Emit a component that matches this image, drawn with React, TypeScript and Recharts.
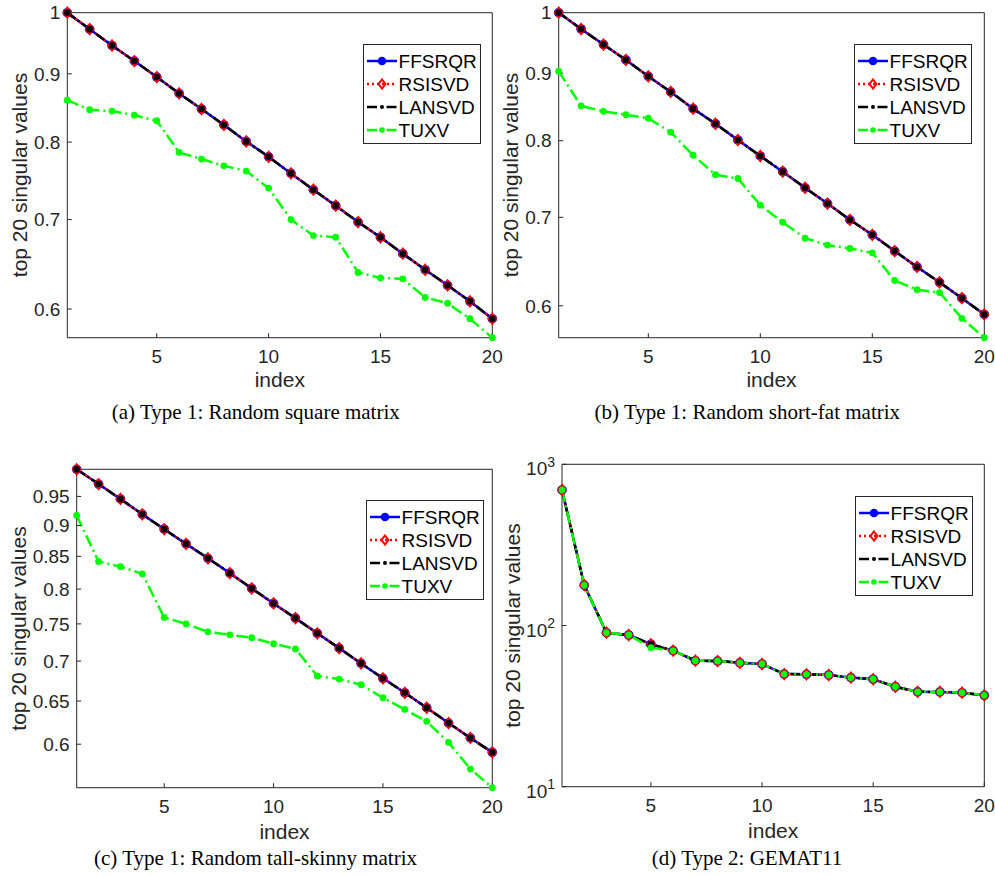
import React from "react";
import { LineChart, Line, XAxis, YAxis, Legend } from "recharts";

const SANS = '"Liberation Sans", Arial, Helvetica, sans-serif';
const SERIF = '"Liberation Serif", "Times New Roman", Times, serif';
const INK = "#262626";
const THIN = 0.01; // axis boxes must be non-empty to be drawn

const indices = [1, 2, 3, 4, 5, 6, 7, 8, 9, 10, 11, 12, 13, 14, 15, 16, 17, 18, 19, 20];
const xTicks = [5, 10, 15, 20];

// (a) random square matrix -- FFSRQR, RSISVD and LANSVD lie on top of each other
const squareExact = [1.0, 0.972, 0.945, 0.92, 0.895, 0.87, 0.847, 0.824, 0.801, 0.78, 0.758, 0.737, 0.717, 0.697, 0.679, 0.66, 0.642, 0.625, 0.608, 0.59];
const squareTuxv = [0.86, 0.846, 0.844, 0.838, 0.83, 0.786, 0.777, 0.768, 0.761, 0.739, 0.7, 0.681, 0.679, 0.639, 0.633, 0.632, 0.612, 0.606, 0.59, 0.571];

// (b) random short-fat matrix
const shortFatExact = [1.0, 0.972, 0.946, 0.921, 0.895, 0.871, 0.846, 0.824, 0.801, 0.779, 0.758, 0.737, 0.717, 0.697, 0.679, 0.66, 0.642, 0.625, 0.608, 0.591];
const shortFatTuxv = [0.903, 0.85, 0.842, 0.837, 0.832, 0.812, 0.78, 0.754, 0.749, 0.715, 0.694, 0.675, 0.667, 0.663, 0.658, 0.627, 0.617, 0.614, 0.587, 0.5675];

// (c) random tall-skinny matrix
const tallExact = [0.999, 0.972, 0.9455, 0.919, 0.894, 0.87, 0.847, 0.824, 0.801, 0.779, 0.758, 0.737, 0.717, 0.697, 0.678, 0.66, 0.642, 0.624, 0.607, 0.591];
const tallTuxv = [0.917, 0.842, 0.834, 0.823, 0.759, 0.75, 0.739, 0.735, 0.731, 0.723, 0.716, 0.681, 0.677, 0.67, 0.654, 0.64, 0.626, 0.602, 0.573, 0.5535];

// (d) GEMAT11
const gematExact = [693, 178, 90.2, 87.3, 76.5, 69.8, 60.5, 60.2, 58.7, 57.7, 50.0, 49.8, 49.3, 47.5, 46.4, 41.7, 38.8, 38.7, 38.3, 36.9];
const gematTuxv = [693, 178, 90.2, 87.3, 72.9, 69.8, 60.5, 60.2, 58.7, 57.7, 50.0, 49.8, 49.3, 47.5, 46.4, 41.7, 38.8, 38.7, 38.3, 36.9];

const type1Ticks = [0.6, 0.7, 0.8, 0.9, 1];
const type1Minor = [0.58, 0.62, 0.64, 0.66, 0.68, 0.72, 0.74, 0.76, 0.78, 0.82, 0.84, 0.86, 0.88, 0.92, 0.94, 0.96, 0.98];
const tallTicks = [0.6, 0.65, 0.7, 0.75, 0.8, 0.85, 0.9, 0.95];
const tallMinor = [0.56, 0.57, 0.58, 0.59, 0.61, 0.62, 0.63, 0.64, 0.66, 0.67, 0.68, 0.69, 0.71, 0.72, 0.73, 0.74, 0.76, 0.77, 0.78, 0.79, 0.81, 0.82, 0.83, 0.84, 0.86, 0.87, 0.88, 0.89, 0.91, 0.92, 0.93, 0.94, 0.96, 0.97, 0.98, 0.99];
const gematTicks = [10, 100, 1000];
const gematMinor = [20, 30, 40, 50, 60, 70, 80, 90, 200, 300, 400, 500, 600, 700, 800, 900];

type Kind = "circle" | "diamond" | "point" | "dot";
const SERIES: { key: string; name: string; color: string; dash?: string; legendDash?: string; kind: Kind }[] = [
  { key: "ffsrqr", name: "FFSRQR", color: "#0000ff", kind: "circle" },
  { key: "rsisvd", name: "RSISVD", color: "#ff0000", dash: "2 3", legendDash: "2 3", kind: "diamond" },
  { key: "lansvd", name: "LANSVD", color: "#000000", dash: "10 3 2 3", legendDash: "10 4 1.5 4", kind: "point" },
  { key: "tuxv", name: "TUXV", color: "#00ff00", dash: "12 4 2 4", legendDash: "10 4 1.5 4", kind: "dot" },
];

const marker = (kind: Kind, cx: number, cy: number, color: string, small = false) => {
  if (kind === "circle")
    return <circle cx={cx} cy={cy} r={small ? 3.3 : 3.8} fill={small ? color : "none"} stroke={color} strokeWidth={2} />;
  if (kind === "diamond") {
    const h = small ? 4.5 : 5;
    const w = small ? 3.5 : 3.8;
    return <polygon points={`${cx},${cy - h} ${cx + w},${cy} ${cx},${cy + h} ${cx - w},${cy}`} fill="none" stroke={color} strokeWidth={2} />;
  }
  if (kind === "point") return <circle cx={cx} cy={cy} r={small ? 2 : 3.3} fill={color} />;
  return <circle cx={cx} cy={cy} r={small ? 2.8 : 3.4} fill={color} />;
};

const dotFor = (kind: Kind, color: string) => (p: any) => (
  <g key={`m-${p.index}`}>{marker(kind, p.cx, p.cy, color)}</g>
);

const buildRows = (exact: number[], tuxv: number[]) =>
  indices.map((i, k) => ({ i, ffsrqr: exact[k], rsisvd: exact[k], lansvd: exact[k], tuxv: tuxv[k] }));

const LegendBox = () => (
  <svg width={118} height={100} style={{ display: "block" }}>
    <rect x={0.5} y={0.5} width={117} height={99} fill="#ffffff" stroke={INK} strokeWidth={1} />
    {SERIES.map((s, k) => {
      const cy = 17 + k * 23;
      return (
        <g key={s.key}>
          <line x1={4} x2={34} y1={cy} y2={cy} stroke={s.color} strokeWidth={2.5} strokeDasharray={s.legendDash} />
          {marker(s.kind, 19, cy, s.color, true)}
          <text x={35.6} y={cy + 6.8} fontSize={19} fontFamily={SANS} fill="#000">
            {s.name}
          </text>
        </g>
      );
    })}
  </svg>
);

const PowerTick = (props: any) => {
  const { x, y, payload } = props;
  const exp = Math.round(Math.log10(payload.value));
  return (
    <text x={x} y={y + 11} textAnchor="end" fill={INK} fontSize={19} fontFamily={SANS}>
      10<tspan dy={-8.4} fontSize={14}>{exp}</tspan>
    </text>
  );
};

type Rect = { left: number; top: number; width: number; height: number };
type Plot = { left: number; top: number; right: number; bottom: number };

const Panel = (props: {
  frame: Rect;
  plot: Plot;
  rows: any[];
  domain: [number, number];
  major: number[];
  minor: number[];
  legend: { left: number; top: number };
  powers?: boolean;
}) => {
  const { frame, plot, rows, domain, major, minor, legend, powers } = props;
  const margin = {
    top: plot.top - frame.top - 2 * THIN,
    left: plot.left - frame.left - 2 * THIN,
    right: frame.left + frame.width - plot.right - 2 * THIN,
    bottom: frame.top + frame.height - plot.bottom - 2 * THIN,
  };
  const tickText = { fill: INK, fontSize: 19, fontFamily: SANS };
  return (
    <div style={{ position: "absolute", left: frame.left, top: frame.top }}>
      <LineChart width={frame.width} height={frame.height} data={rows} margin={margin}>
        <XAxis xAxisId="b" dataKey="i" type="number" domain={[1, 20]} ticks={xTicks} interval={0} height={THIN} tickSize={-4.5} tickMargin={16.6} stroke={INK} tick={tickText} />
        <XAxis xAxisId="t" orientation="top" dataKey="i" type="number" domain={[1, 20]} ticks={xTicks} interval={0} height={THIN} tickSize={-4.5} stroke={INK} tick={false} />
        <YAxis yAxisId="l" type="number" scale="log" domain={domain} ticks={major} interval={0} width={THIN} tickSize={-4.5} tickMargin={11.5} stroke={INK} tick={powers ? <PowerTick /> : tickText} />
        <YAxis yAxisId="lm" type="number" scale="log" domain={domain} ticks={minor} interval={0} width={THIN} tickSize={-2.5} axisLine={false} stroke={INK} tick={false} />
        <YAxis yAxisId="r" orientation="right" type="number" scale="log" domain={domain} ticks={major} interval={0} width={THIN} tickSize={-4.5} stroke={INK} tick={false} />
        <YAxis yAxisId="rm" orientation="right" type="number" scale="log" domain={domain} ticks={minor} interval={0} width={THIN} tickSize={-2.5} axisLine={false} stroke={INK} tick={false} />
        {SERIES.map((s) => (
          <Line
            key={s.key}
            xAxisId="b"
            yAxisId="l"
            dataKey={s.key}
            name={s.name}
            type="linear"
            stroke={s.color}
            strokeWidth={2.5}
            strokeDasharray={s.dash}
            dot={dotFor(s.kind, s.color)}
            activeDot={false}
            isAnimationActive={false}
          />
        ))}
        <Legend
          layout="vertical"
          align="center"
          verticalAlign="middle"
          content={() => <LegendBox />}
          wrapperStyle={{ left: legend.left, top: legend.top, width: 118, height: 100 }}
        />
      </LineChart>
    </div>
  );
};

const titles = [
  { y: 175, x: 27, plotMid: 279.8, xBase: 387, cap: "(a) Type 1: Random square matrix", capX: 255.8, capY: 418.5 },
  { y: 175, x: 518.4, plotMid: 771.5, xBase: 387, cap: "(b) Type 1: Random short-fat matrix", capX: 747.3, capY: 418.5 },
  { y: 628.5, x: 26, plotMid: 284.5, xBase: 838.5, cap: "(c) Type 1: Random tall-skinny matrix", capX: 255.5, capY: 865 },
  { y: 625.5, x: 520, plotMid: 773.2, xBase: 837.5, cap: "(d) Type 2: GEMAT11", capX: 747, capY: 865 },
];

export default function App() {
  return (
    <div style={{ position: "absolute", left: 0, top: 0, width: 995, height: 875, background: "#ffffff", overflow: "hidden" }}>
      <Panel
        frame={{ left: 0, top: 0, width: 520, height: 430 }}
        plot={{ left: 67.3, top: 12.7, right: 492.3, bottom: 337.7 }}
        rows={buildRows(squareExact, squareTuxv)}
        domain={[0.571, 1]}
        major={type1Ticks}
        minor={type1Minor}
        legend={{ left: 362.7, top: 44.3 }}
      />
      <Panel
        frame={{ left: 497, top: 0, width: 498, height: 430 }}
        plot={{ left: 558.7, top: 12.7, right: 984.3, bottom: 337.7 }}
        rows={buildRows(shortFatExact, shortFatTuxv)}
        domain={[0.5675, 1]}
        major={type1Ticks}
        minor={type1Minor}
        legend={{ left: 357.3, top: 44.3 }}
      />
      <Panel
        frame={{ left: 0, top: 430, width: 520, height: 445 }}
        plot={{ left: 76.7, top: 469.3, right: 492.3, bottom: 787.7 }}
        rows={buildRows(tallExact, tallTuxv)}
        domain={[0.5535, 0.999]}
        major={tallTicks}
        minor={tallMinor}
        legend={{ left: 365.7, top: 70 }}
      />
      <Panel
        frame={{ left: 497, top: 430, width: 498, height: 445 }}
        plot={{ left: 562, top: 464.3, right: 984.3, bottom: 786.7 }}
        rows={indices.map((i, k) => ({ i, ffsrqr: gematExact[k], rsisvd: gematExact[k], lansvd: gematExact[k], tuxv: gematTuxv[k] }))}
        domain={[10, 1000]}
        major={gematTicks}
        minor={gematMinor}
        legend={{ left: 358.3, top: 65.7 }}
        powers
      />
      <svg width={995} height={875} style={{ position: "absolute", left: 0, top: 0, pointerEvents: "none" }}>
        {titles.map((t) => (
          <g key={t.cap}>
            <text x={t.x} y={t.y} transform={`rotate(-90 ${t.x} ${t.y})`} textAnchor="middle" fontSize={21} fontFamily={SANS} fill={INK}>
              top 20 singular values
            </text>
            <text x={t.plotMid} y={t.xBase} textAnchor="middle" fontSize={21} fontFamily={SANS} fill={INK}>
              index
            </text>
            <text x={t.capX} y={t.capY} textAnchor="middle" fontSize={21} fontFamily={SERIF} fill="#000">
              {t.cap}
            </text>
          </g>
        ))}
      </svg>
    </div>
  );
}
